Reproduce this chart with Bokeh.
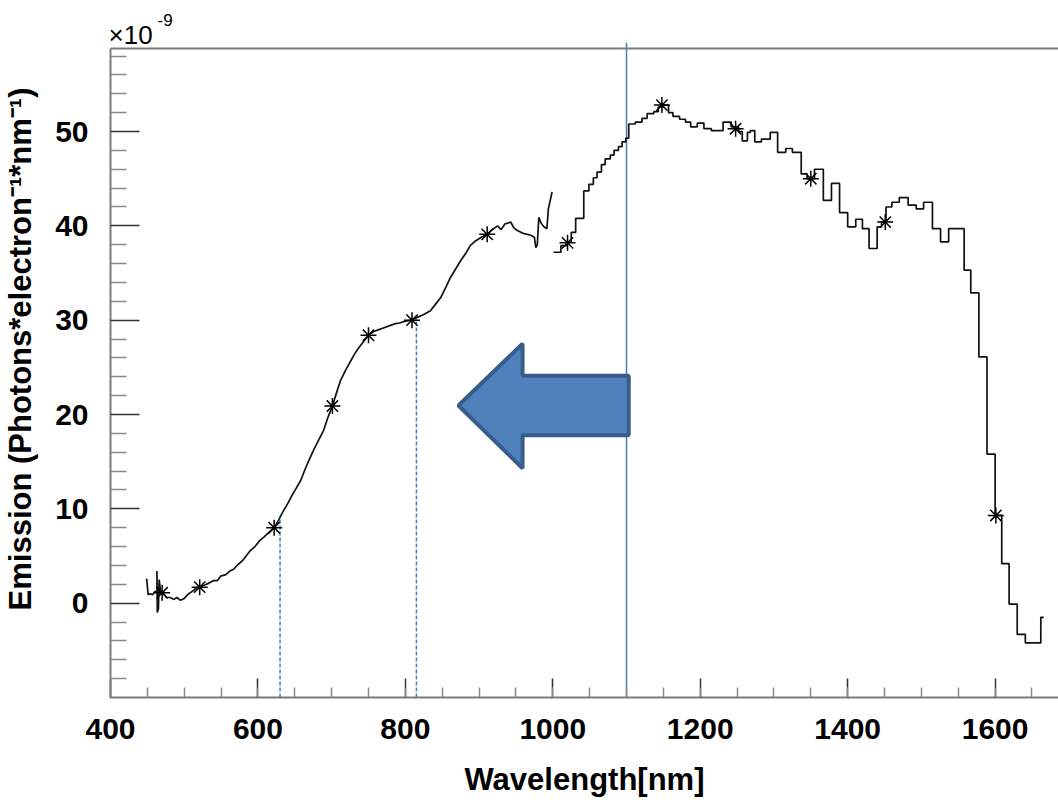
from bokeh.plotting import figure
from bokeh.models import Range1d, FixedTicker, Label
from bokeh.embed import file_html
from bokeh.resources import INLINE

# ---------------- data ----------------
# smooth, finely sampled part of the spectrum (nm, 1e-9 photons/electron/nm)
wl_left = [449, 450, 451, 454, 457, 460, 463, 463, 463.5, 465, 466, 468, 472, 476, 481,
           486, 490, 495, 500, 506, 512, 516, 521, 527, 533, 540, 545, 550, 556, 562,
           567, 573, 579, 585, 590, 596, 602, 608, 615, 622, 628, 634, 640, 646, 652,
           658, 664, 670, 676, 683, 689, 695, 701, 707, 712, 719, 726, 731, 737, 744,
           750, 757, 764, 771, 778, 785, 792, 800, 809, 816, 825, 834, 841, 848, 855,
           861, 868, 875, 882, 888, 895, 903, 911, 918, 925, 930, 935, 943, 947, 952,
           960, 970, 975, 977, 979, 981, 984, 988, 992, 994, 996, 999]
em_left = [2.6, 1.8, 0.9, 1.0, 0.9, 1.2, 1.3, 3.4, -1.0, -0.6, 2.5, 1.2, 1.0, 0.6, 0.6,
           0.4, 0.6, 0.3, 0.5, 1.0, 1.3, 1.6, 1.7, 1.9, 2.1, 2.4, 2.4, 2.9, 3.0, 3.4,
           3.6, 4.1, 4.5, 5.1, 5.6, 6.0, 6.6, 7.0, 7.5, 8.0, 8.8, 9.7, 10.5, 11.4, 12.2,
           13.0, 14.2, 15.3, 16.3, 17.4, 18.3, 19.7, 20.9, 22.4, 23.6, 24.7, 25.7, 26.4, 27.1, 27.8,
           28.4, 28.8, 29.0, 29.2, 29.4, 29.6, 29.7, 29.9, 30.0, 30.3, 30.6, 31.0, 31.7, 32.4, 33.5,
           34.5, 35.4, 36.3, 37.1, 37.9, 38.4, 38.8, 39.1, 39.6, 40.0, 39.6, 40.2, 40.4, 39.8, 39.5,
           39.2, 39.0, 38.8, 37.7, 38.0, 40.9, 40.3, 39.9, 39.7, 41.8, 42.5, 43.6]

# binned part of the spectrum: bin start (nm) and value
wl_right = [1001, 1011, 1019, 1025, 1031, 1042, 1049, 1055, 1060, 1066, 1071, 1078, 1083,
            1089, 1094, 1099, 1103, 1112, 1121, 1128, 1137, 1143, 1150, 1157, 1163, 1172,
            1180, 1187, 1196, 1205, 1215, 1231, 1242, 1252, 1257, 1264, 1268, 1274, 1283,
            1295, 1305, 1316, 1325, 1337, 1345, 1355, 1367, 1378, 1389, 1400, 1411, 1420,
            1429, 1440, 1446, 1452, 1460, 1470, 1482, 1493, 1503, 1515, 1526, 1537, 1558,
            1567, 1578, 1589, 1600, 1609, 1619, 1630, 1641, 1662, 1666]
em_right = [37.2, 37.9, 38.3, 39.3, 40.8, 43.7, 44.4, 45.1, 45.7, 46.5, 47.1, 47.5, 48.0,
            48.4, 48.9, 49.3, 50.8, 51.0, 51.4, 51.9, 52.1, 52.6, 52.8, 52.0, 51.6, 51.3,
            51.0, 50.5, 50.9, 50.3, 50.1, 51.0, 50.5, 50.0, 49.0, 49.9, 50.1, 48.9, 49.2,
            49.9, 47.8, 48.2, 47.8, 45.5, 45.0, 46.0, 42.7, 44.5, 41.4, 39.9, 40.7, 39.7,
            37.6, 39.9, 40.4, 42.0, 42.5, 43.0, 42.2, 41.8, 42.5, 39.7, 38.3, 39.7, 35.3,
            32.9, 26.1, 15.8, 9.3, 4.2, -0.1, -3.3, -4.2, -1.5, -1.5]

# marked points
wl_marks = [470, 521, 622, 701, 750, 809, 911, 1020, 1148, 1248, 1350, 1451, 1601]
em_marks = [1.1, 1.7, 8.0, 20.9, 28.4, 30.0, 39.1, 38.2, 52.8, 50.3, 45.0, 40.4, 9.3]

# reference lines
cut_wl = 1100
cut_top = 59.4
dashed_wl = [630, 815]
dashed_top = [9.1, 30.2]

# arrow annotation outline (data coordinates)
arrow_x = [872, 959, 959, 1103, 1103, 959, 959]
arrow_y = [20.95, 27.5, 24.1, 24.1, 17.8, 17.8, 14.3]

x_major = [400, 600, 800, 1000, 1200, 1400, 1600]
x_minor = list(range(450, 1700, 50))
y_major = [0, 10, 20, 30, 40, 50]
y_minor = [v for v in range(-8, 60, 2) if v % 10 != 0]

Y_TOP = 58.8
Y_BOTTOM = -10

# ---------------- figure ----------------
p = figure(width=1058, height=800,
           x_range=Range1d(400, 1686), y_range=Range1d(-10, 63.89),
           output_backend="svg", toolbar_location=None,
           min_border_left=110, min_border_right=0,
           min_border_top=0, min_border_bottom=103)
p.outline_line_color = None
p.xgrid.visible = False
p.ygrid.visible = False
p.background_fill_color = "white"
p.border_fill_color = "white"

FONT = "Liberation Sans"
AX_COL = "#7a7a7a"

for ax in (p.xaxis[0], p.yaxis[0]):
    ax.axis_line_color = AX_COL
    ax.axis_line_width = 2
    ax.major_tick_line_color = "#333333"
    ax.minor_tick_line_color = "#8a8a8a"
    ax.major_tick_line_width = 1.5
    ax.minor_tick_line_width = 1.5
    ax.major_tick_out = 0
    ax.minor_tick_out = 0
    ax.major_label_text_font = FONT
    ax.major_label_text_font_style = "bold"
    ax.major_label_text_font_size = "30px"
    ax.major_label_text_color = "black"
    ax.axis_label_text_font = FONT
    ax.axis_label_text_font_style = "bold"
    ax.axis_label_text_font_size = "31px"
    ax.axis_label_text_color = "black"

p.xaxis[0].ticker = FixedTicker(ticks=x_major, minor_ticks=x_minor)
p.xaxis[0].major_tick_in = 19
p.xaxis[0].minor_tick_in = 10
p.xaxis[0].major_label_standoff = 21
p.xaxis[0].axis_label = "Wavelength[nm]"
p.xaxis[0].axis_label_standoff = 20

p.yaxis[0].ticker = FixedTicker(ticks=y_major, minor_ticks=y_minor)
p.yaxis[0].bounds = (Y_BOTTOM, Y_TOP)
p.yaxis[0].major_tick_in = 29
p.yaxis[0].minor_tick_in = 16
p.yaxis[0].major_label_standoff = 22
p.yaxis[0].axis_label = "Emission (Photons*electron\u207b\u00b9*nm\u207b\u00b9)"
p.yaxis[0].axis_label_standoff = 14

# top frame line
p.segment(x0=[400], y0=[Y_TOP], x1=[1686], y1=[Y_TOP], line_color=AX_COL, line_width=2)

# reference lines
BLUE = "#4a7ebb"
p.segment(x0=[cut_wl], y0=[Y_BOTTOM], x1=[cut_wl], y1=[cut_top], line_color=BLUE, line_width=1.5)
p.segment(x0=dashed_wl, y0=[Y_BOTTOM] * len(dashed_wl), x1=dashed_wl, y1=dashed_top,
          line_color=BLUE, line_width=1.5, line_dash="4 2")

# arrow
p.patch(arrow_x, arrow_y, fill_color="#4f81bd", line_color="#385d8a", line_width=4)

# spectrum
p.line(wl_left, em_left, line_color="#111111", line_width=1.7)
p.step(wl_right, em_right, mode="after", line_color="#111111", line_width=1.7)
p.scatter(wl_marks, em_marks, marker="asterisk", size=16, line_color="black", line_width=1.5)

# multiplier label (x10^-9)
p.add_layout(Label(x=400, y=60.18, x_offset=-2, text="\u00d710",
                   text_font=FONT, text_font_size="26px", text_color="black",
                   text_baseline="alphabetic"))
p.add_layout(Label(x=400, y=61.77, x_offset=47, text="-9",
                   text_font=FONT, text_font_size="17px", text_color="black",
                   text_baseline="alphabetic"))

open("out.html", "w").write(file_html(p, INLINE))
